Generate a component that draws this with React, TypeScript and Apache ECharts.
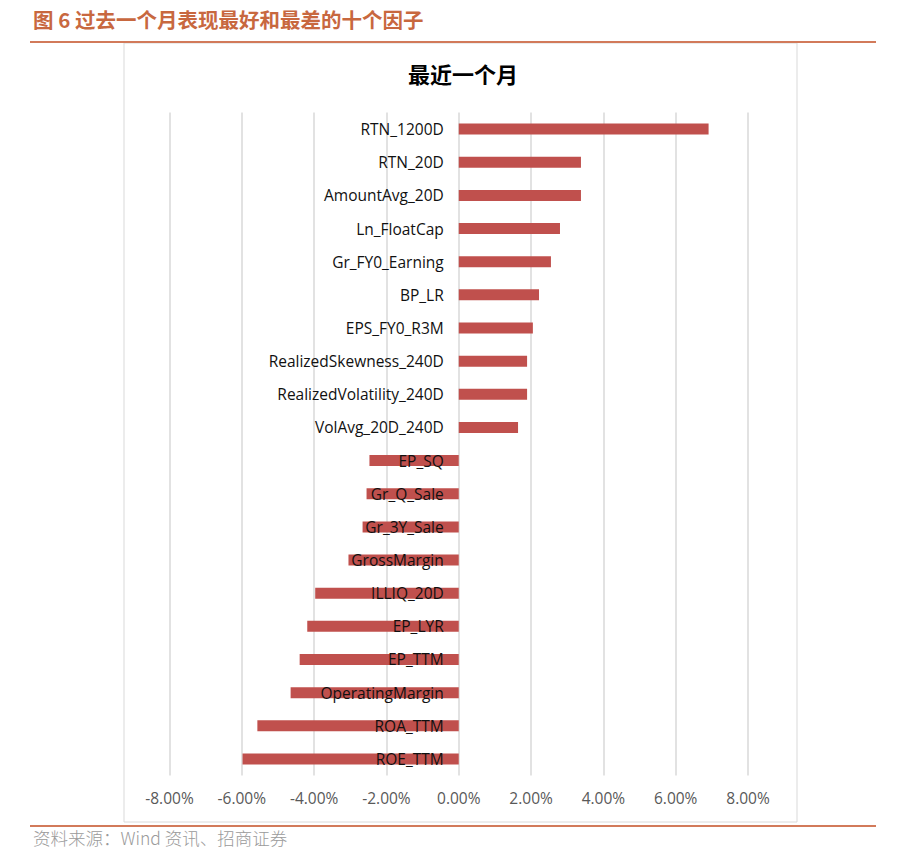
import React, { useEffect, useRef } from "react";
import * as echarts from "echarts";

const categories = [
  "RTN_1200D", "RTN_20D", "AmountAvg_20D", "Ln_FloatCap", "Gr_FY0_Earning",
  "BP_LR", "EPS_FY0_R3M", "RealizedSkewness_240D", "RealizedVolatility_240D", "VolAvg_20D_240D",
  "EP_SQ", "Gr_Q_Sale", "Gr_3Y_Sale", "GrossMargin", "ILLIQ_20D",
  "EP_LYR", "EP_TTM", "OperatingMargin", "ROA_TTM", "ROE_TTM",
];
const values = [
  6.91, 3.38, 3.38, 2.8, 2.55,
  2.22, 2.05, 1.89, 1.89, 1.64,
  -2.47, -2.55, -2.66, -3.05, -3.97,
  -4.19, -4.4, -4.65, -5.57, -5.98,
];
const xTicks = { min: -8, max: 8, interval: 2 };
const headerTitle = "图 6 过去一个月表现最好和最差的十个因子";
const chartTitle = "最近一个月";
const sourceText = "资料来源：Wind 资讯、招商证券";

export default function App() {
  const ref = useRef<HTMLDivElement>(null);
  useEffect(() => {
    if (!ref.current) return;
    const chart = echarts.init(ref.current, undefined, { renderer: "svg" });
    const gridLeft = 169.5;
    const gridRight = 157;
    const plotW = 905 - gridLeft - gridRight;
    const zeroX = gridLeft + (plotW * (0 - xTicks.min)) / (xTicks.max - xTicks.min);
    chart.setOption({
      animation: false,
      backgroundColor: "#fff",
      title: {
        text: chartTitle,
        left: 458,
        top: 57,
        textAlign: "center",
        textStyle: { fontFamily: "Noto Sans CJK SC", fontSize: 22, fontWeight: "bold", color: "#000" },
      },
      graphic: [
        { type: "text", left: 33, top: 9, style: { text: headerTitle, fontFamily: "Noto Sans CJK SC", fontSize: 20.5, fontWeight: "bold", fill: "#C8683F" } },
        { type: "rect", shape: { x: 30, y: 41, width: 846, height: 2 }, style: { fill: "#D27A5A" } },
        { type: "rect", shape: { x: 124, y: 43, width: 673, height: 779 }, style: { fill: "none", stroke: "#d9d9d9", lineWidth: 1 }, z: -1 },
        { type: "rect", shape: { x: 30, y: 825, width: 846, height: 2 }, style: { fill: "#D27A5A" } },
        { type: "text", left: 33, top: 829, style: { text: sourceText, fontFamily: "Noto Sans CJK SC", fontSize: 17.5, fontWeight: 300, fill: "#9a9a9a" } },
      ],
      grid: { left: gridLeft, right: gridRight, top: 112.5, bottom: 88.5, containLabel: false, outerBoundsMode: "none" },
      xAxis: {
        type: "value",
        min: xTicks.min,
        max: xTicks.max,
        interval: xTicks.interval,
        axisLine: { show: false },
        axisTick: { show: false },
        splitLine: { show: true, lineStyle: { color: "#d9d9d9", width: 1.5 } },
        axisLabel: {
          formatter: (v: number) => v.toFixed(2) + "%",
          color: "#595959",
          fontFamily: "Open Sans",
          fontSize: 15.5,
          margin: 14,
        },
      },
      yAxis: {
        type: "category",
        data: categories,
        inverse: true,
        z: 10,
        position: "left",
        offset: -(zeroX - gridLeft),
        axisLine: { show: false, onZero: false },
        axisTick: { show: false },
        axisLabel: {
          color: "#111",
          fontFamily: "Open Sans",
          fontSize: 15.5,
          margin: 15,
        },
      },
      series: [
        {
          type: "bar",
          data: values,
          barWidth: 11,
          itemStyle: { color: "#C0504D" },
          z: 2,
        },
      ],
    });
    return () => chart.dispose();
  }, []);
  return <div ref={ref} style={{ position: "fixed", left: 0, top: 0, width: 905, height: 864 }} />;
}
